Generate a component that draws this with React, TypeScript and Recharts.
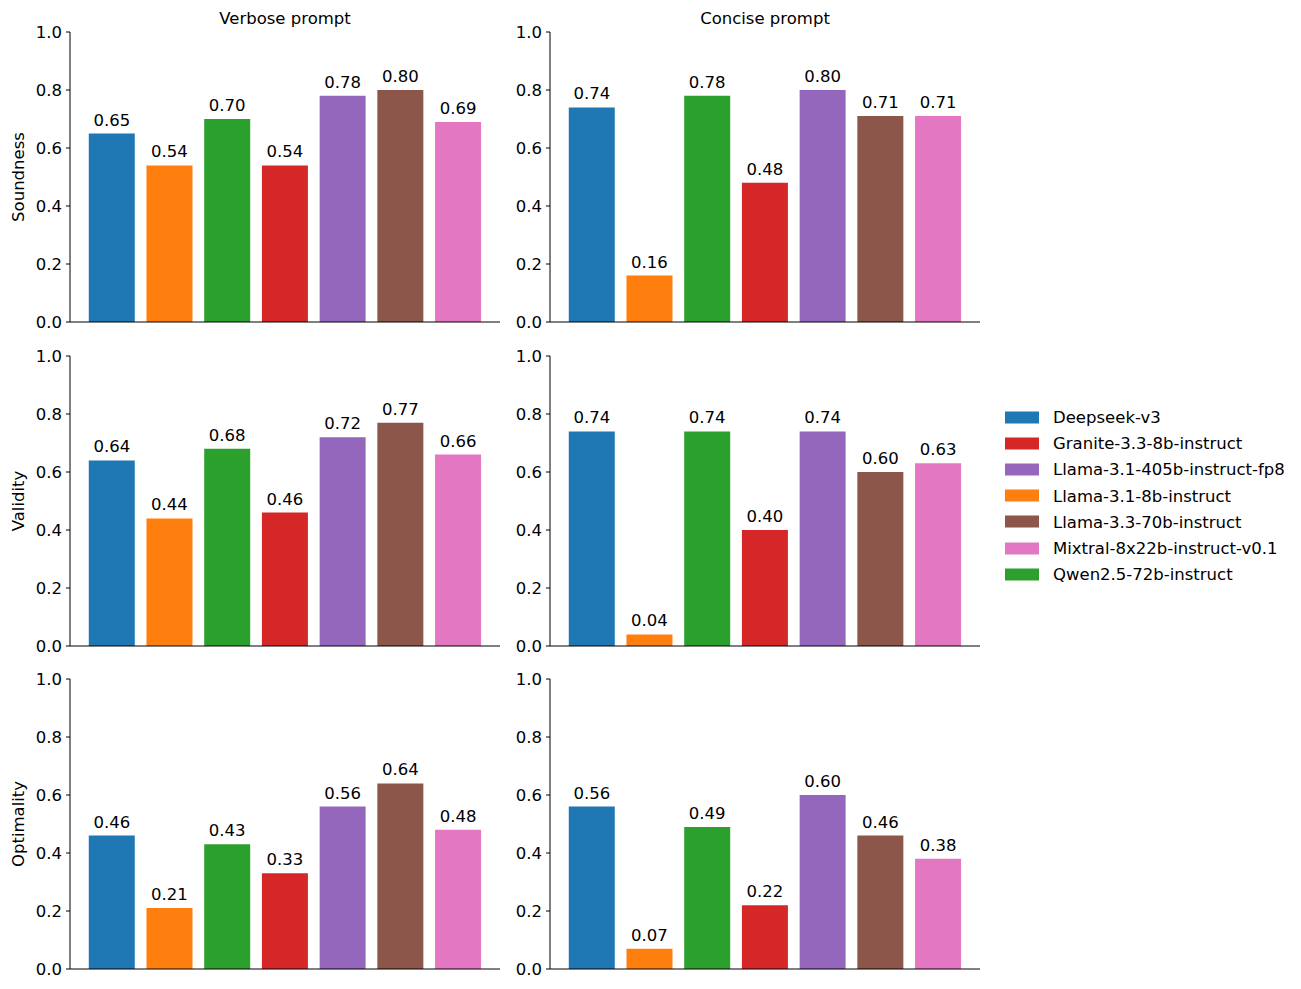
import React from 'react';
import { BarChart, Bar, XAxis, YAxis, Cell, LabelList } from 'recharts';

const models = [
  'Deepseek-v3',
  'Llama-3.1-8b-instruct',
  'Qwen2.5-72b-instruct',
  'Granite-3.3-8b-instruct',
  'Llama-3.1-405b-instruct-fp8',
  'Llama-3.3-70b-instruct',
  'Mixtral-8x22b-instruct-v0.1',
];

const colors = ['#1f77b4', '#ff7f0e', '#2ca02c', '#d62728', '#9467bd', '#8c564b', '#e377c2'];

const verboseSoundness = [0.65, 0.54, 0.70, 0.54, 0.78, 0.80, 0.69];
const conciseSoundness = [0.74, 0.16, 0.78, 0.48, 0.80, 0.71, 0.71];
const verboseValidity = [0.64, 0.44, 0.68, 0.46, 0.72, 0.77, 0.66];
const conciseValidity = [0.74, 0.04, 0.74, 0.40, 0.74, 0.60, 0.63];
const verboseOptimality = [0.46, 0.21, 0.43, 0.33, 0.56, 0.64, 0.48];
const conciseOptimality = [0.56, 0.07, 0.49, 0.22, 0.60, 0.46, 0.38];

const columnTitles = ['Verbose prompt', 'Concise prompt'];
const rowLabels = ['Soundness', 'Validity', 'Optimality'];
const yTicks = [0, 0.2, 0.4, 0.6, 0.8, 1.0];

// legend is sorted alphabetically, like the original
const legendOrder = [0, 3, 4, 1, 5, 6, 2];

const FONT = '"DejaVu Sans", sans-serif';
const FS = 16.5;

const panels = [
  [verboseSoundness, conciseSoundness],
  [verboseValidity, conciseValidity],
  [verboseOptimality, conciseOptimality],
];

const plotLefts = [70, 550];
const plotTops = [32, 356, 679];
const Y_AXIS_W = 60;
const PLOT_W = 430;
const PLOT_H = 290;

const Panel: React.FC<{ values: number[]; left: number; top: number }> = ({ values, left, top }) => {
  const data = models.map((name, i) => ({ name, value: values[i] }));
  return (
    <div style={{ position: 'absolute', left: left - Y_AXIS_W, top: top - 12 }}>
      <BarChart
        width={Y_AXIS_W + PLOT_W + 10}
        height={12 + PLOT_H + 1 + 12}
        data={data}
        margin={{ top: 12, right: 10, left: 0, bottom: 12 }}
        barCategoryGap="10%"
      >
        <XAxis
          dataKey="name"
          height={1}
          tick={false}
          tickLine={false}
          axisLine={{ stroke: '#000', strokeWidth: 1 }}
          padding={{ left: 13, right: 13 }}
        />
        <YAxis
          width={Y_AXIS_W}
          domain={[0, 1]}
          ticks={yTicks}
          interval={0}
          tickFormatter={(v: number) => v.toFixed(1)}
          tickSize={4}
          tickMargin={4}
          axisLine={{ stroke: '#000', strokeWidth: 1 }}
          tickLine={{ stroke: '#000', strokeWidth: 1 }}
          tick={{ fill: '#000', fontSize: FS, fontFamily: FONT }}
        />
        <Bar dataKey="value" isAnimationActive={false}>
          {data.map((d, i) => (
            <Cell key={d.name} fill={colors[i]} />
          ))}
          <LabelList
            dataKey="value"
            position="top"
            offset={8}
            formatter={(v: number) => v.toFixed(2)}
            style={{ fill: '#000', fontSize: FS, fontFamily: FONT }}
          />
        </Bar>
      </BarChart>
    </div>
  );
};

export default function App() {
  return (
    <div
      style={{
        position: 'absolute',
        left: 0,
        top: 0,
        width: 1301,
        height: 989,
        background: '#fff',
        fontFamily: FONT,
        fontSize: FS,
        color: '#000',
      }}
    >
      {columnTitles.map((t, c) => (
        <div
          key={t}
          style={{
            position: 'absolute',
            left: plotLefts[c] + PLOT_W / 2,
            top: 18,
            transform: 'translate(-50%, -50%)',
            whiteSpace: 'nowrap',
          }}
        >
          {t}
        </div>
      ))}
      {rowLabels.map((t, r) => (
        <div
          key={t}
          style={{
            position: 'absolute',
            left: 18,
            top: plotTops[r] + PLOT_H / 2,
            transform: 'translate(-50%, -50%) rotate(-90deg)',
            whiteSpace: 'nowrap',
          }}
        >
          {t}
        </div>
      ))}
      {panels.map((row, r) =>
        row.map((values, c) => (
          <Panel key={`${r}-${c}`} values={values} left={plotLefts[c]} top={plotTops[r]} />
        ))
      )}
      {legendOrder.map((idx, i) => (
        <div
          key={models[idx]}
          style={{
            position: 'absolute',
            left: 1005,
            top: 417 + i * 26.2,
            transform: 'translateY(-50%)',
            display: 'flex',
            alignItems: 'center',
            whiteSpace: 'nowrap',
          }}
        >
          <span style={{ display: 'inline-block', width: 34, height: 12, background: colors[idx], marginRight: 14 }} />
          <span>{models[idx]}</span>
        </div>
      ))}
    </div>
  );
}
